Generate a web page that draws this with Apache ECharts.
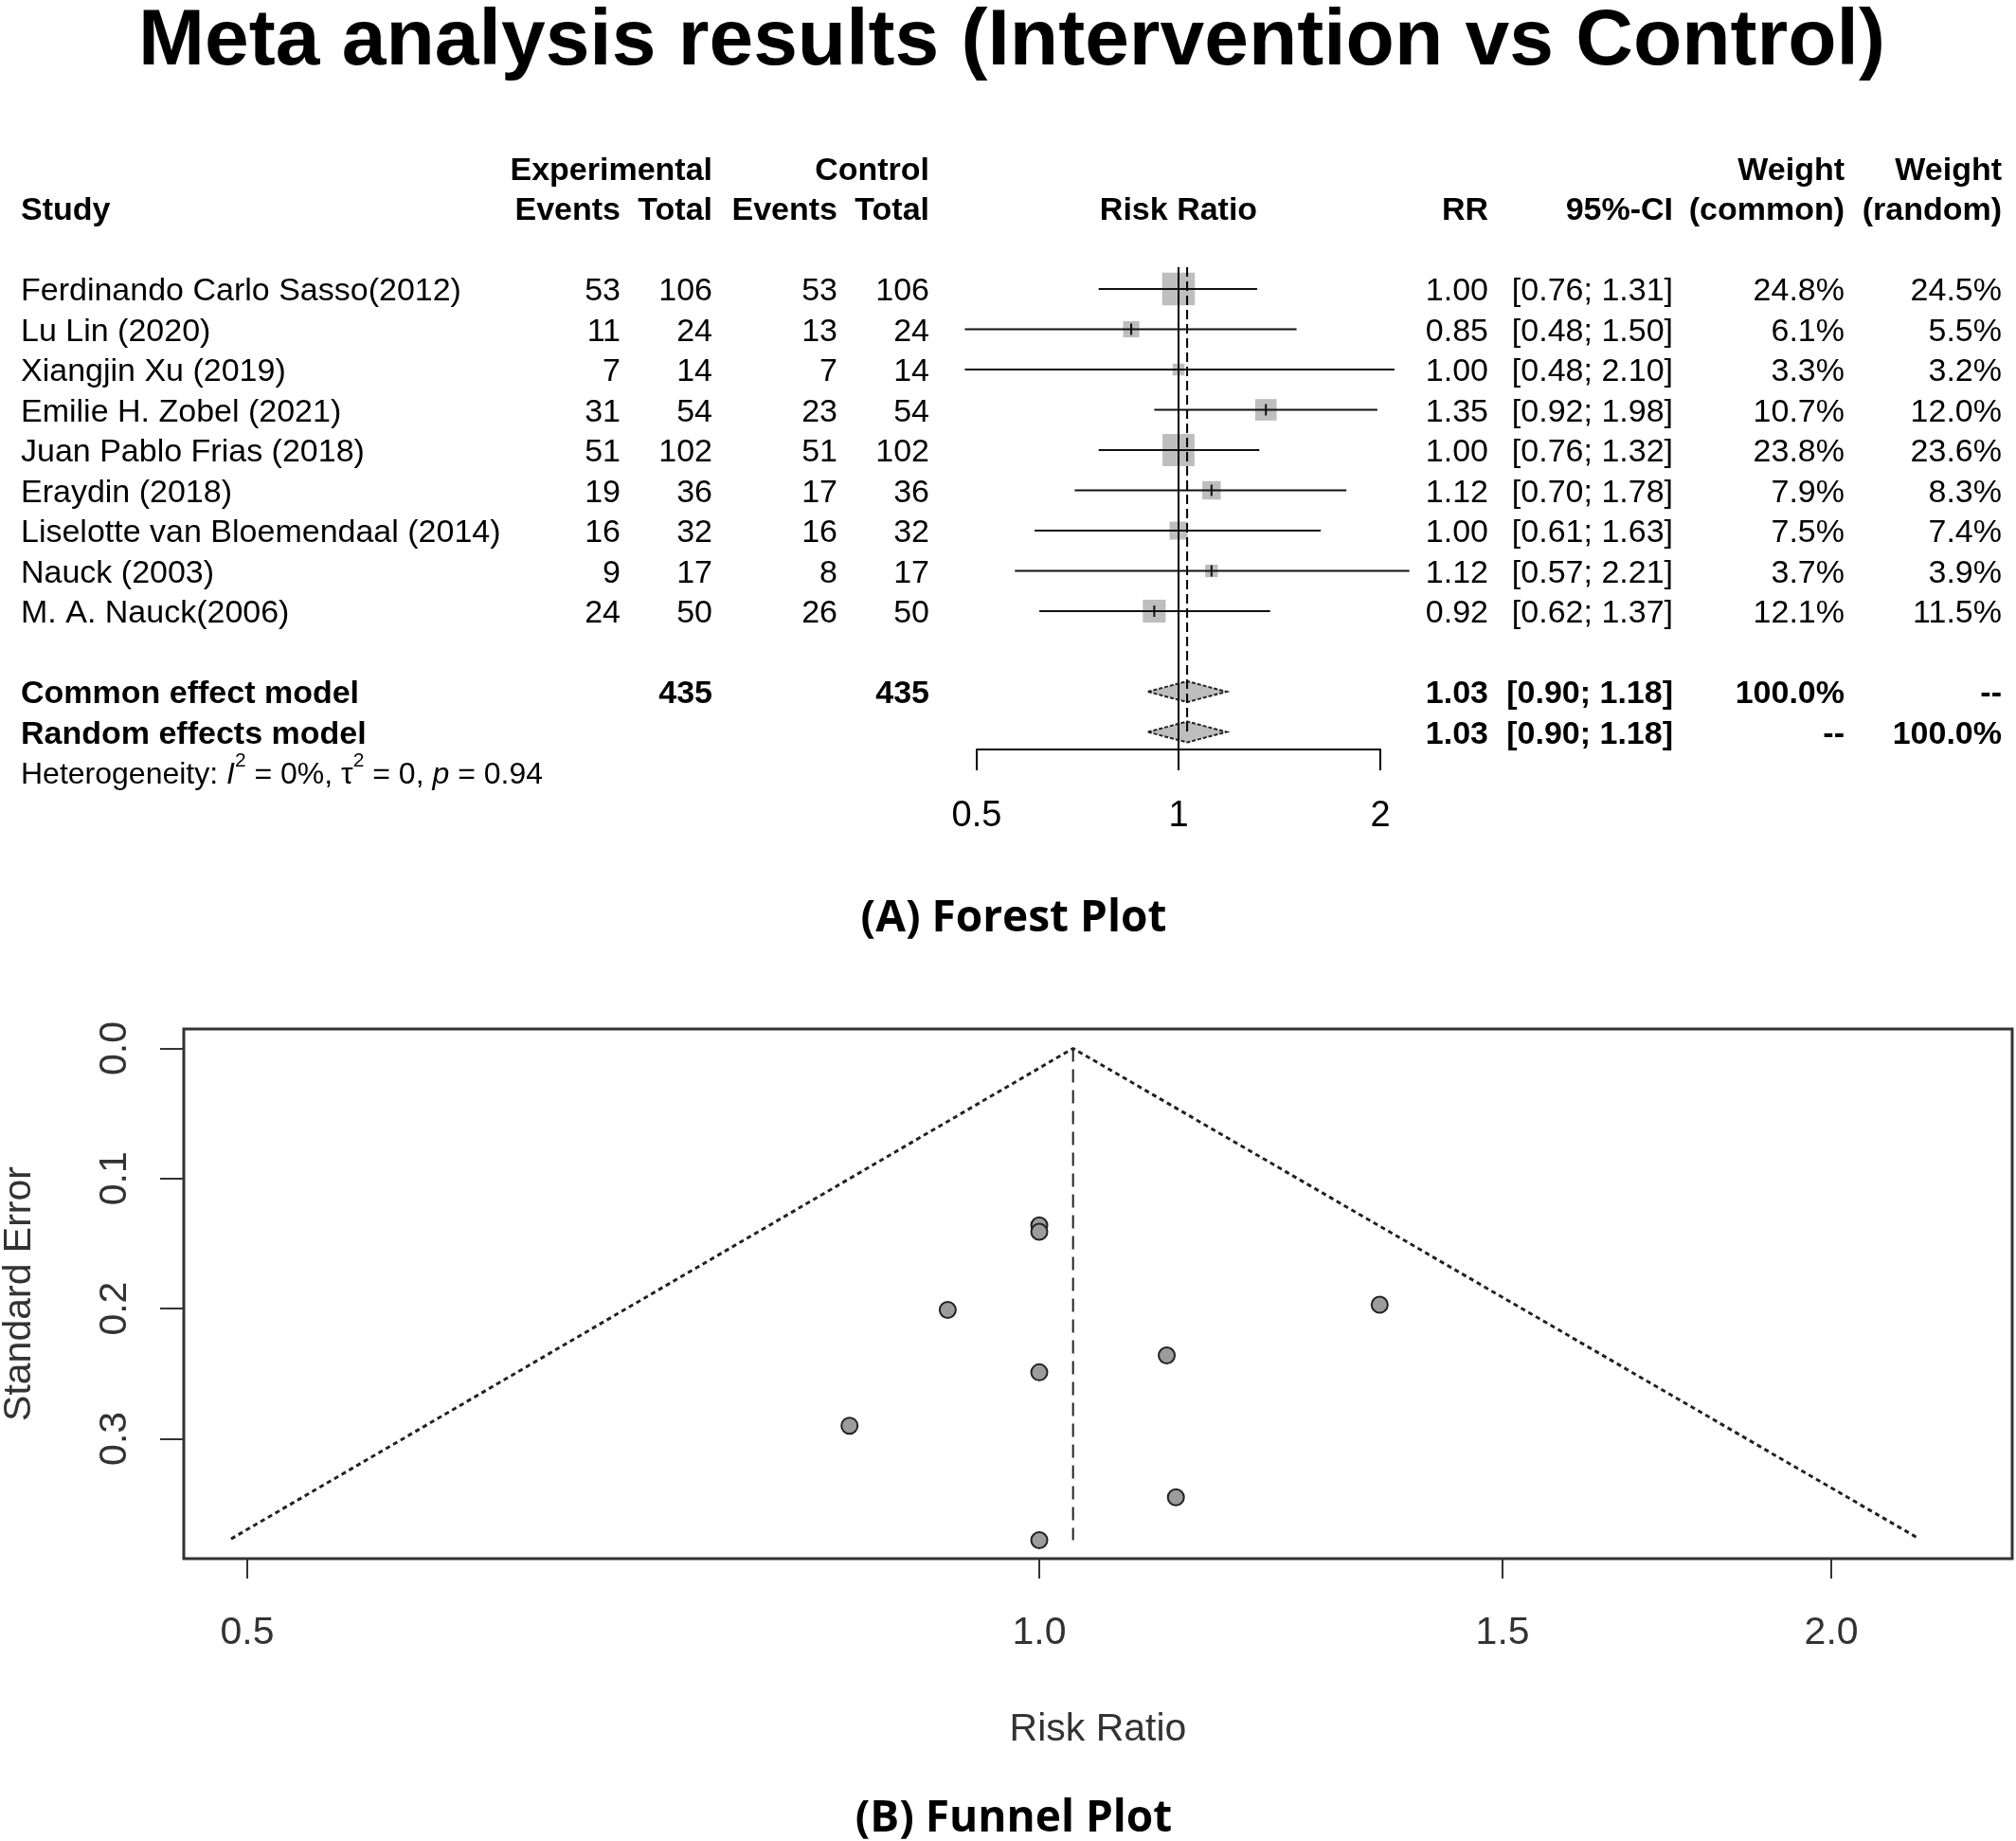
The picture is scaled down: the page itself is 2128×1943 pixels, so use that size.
<!DOCTYPE html>
<html>
<head>
<meta charset="utf-8">
<script src="https://cdn.jsdelivr.net/npm/echarts@6/dist/echarts.min.js"></script>
<style>
html,body{margin:0;padding:0;background:#fff;}
#chart{width:2128px;height:1943px;}
</style>
</head>
<body>
<div id="chart"></div>
<script>
// ---------------- data ----------------
const studies = [
  'Ferdinando Carlo Sasso(2012)', 'Lu Lin (2020)', 'Xiangjin Xu (2019)', 'Emilie H. Zobel (2021)',
  'Juan Pablo Frias (2018)', 'Eraydin (2018)', 'Liselotte van Bloemendaal (2014)', 'Nauck (2003)', 'M. A. Nauck(2006)'
];
const expEvents  = [53, 11, 7, 31, 51, 19, 16, 9, 24];
const expTotal   = [106, 24, 14, 54, 102, 36, 32, 17, 50];
const ctrlEvents = [53, 13, 7, 23, 51, 17, 16, 8, 26];
const ctrlTotal  = [106, 24, 14, 54, 102, 36, 32, 17, 50];
const rr     = [1.00, 0.85, 1.00, 1.35, 1.00, 1.12, 1.00, 1.12, 0.92];
const ciLow  = [0.76, 0.48, 0.48, 0.92, 0.76, 0.70, 0.61, 0.57, 0.62];
const ciHigh = [1.31, 1.50, 2.10, 1.98, 1.32, 1.78, 1.63, 2.21, 1.37];
const weightCommon = [24.8, 6.1, 3.3, 10.7, 23.8, 7.9, 7.5, 3.7, 12.1];
const weightRandom = [24.5, 5.5, 3.2, 12.0, 23.6, 8.3, 7.4, 3.9, 11.5];
const pooledCommon = [0.90, 1.03, 1.18];   // [low, est, high]
const pooledRandom = [0.90, 1.03, 1.18];
const totals = [435, 435];
const forestTicks = [0.5, 1, 2];

// funnel plot values
const funnelRR = [1.00, 0.847, 1.00, 1.347, 1.00, 1.118, 1.00, 1.127, 0.923];
const funnelSE = [0.136, 0.290, 0.378, 0.197, 0.141, 0.236, 0.249, 0.345, 0.201];
const funnelLimitRR = [0.493, 1.03, 2.16];
const funnelLimitSE = [0.377, 0, 0.377];
const funnelPooled = [1.03, 0.378];  // [RR, SE bottom of dashed line]
const funnelXTicks = [0.5, 1.0, 1.5, 2.0];
const funnelYTicks = [0, 0.1, 0.2, 0.3];

// ---------------- layout ----------------
const FONT = '"Liberation Sans", Arial, Helvetica, sans-serif';
const ROW_H1 = -3, ROW_H2 = -2, ROW_COMMON = 10, ROW_RANDOM = 11, ROW_HET = 12;
const COL = { study: 22, expEv: 655, expTot: 752, ctrlEv: 884, ctrlTot: 981, rr: 1571, ci: 1766, wc: 1947, wr: 2113, plot: 1244 };
const TEXT_DY = 3;

const cells = [];
function cell(x, row, text, align, bold, extra) {
  cells.push(Object.assign({ x, row, text: String(text), align, bold: !!bold }, extra || {}));
}
cell(COL.expTot, ROW_H1, 'Experimental', 'right', true);
cell(COL.ctrlTot, ROW_H1, 'Control', 'right', true);
cell(COL.wc, ROW_H1, 'Weight', 'right', true);
cell(COL.wr, ROW_H1, 'Weight', 'right', true);
cell(COL.study, ROW_H2, 'Study', 'left', true);
cell(COL.expEv, ROW_H2, 'Events', 'right', true);
cell(COL.expTot, ROW_H2, 'Total', 'right', true);
cell(COL.ctrlEv, ROW_H2, 'Events', 'right', true);
cell(COL.ctrlTot, ROW_H2, 'Total', 'right', true);
cell(COL.plot, ROW_H2, 'Risk Ratio', 'center', true);
cell(COL.rr, ROW_H2, 'RR', 'right', true);
cell(COL.ci, ROW_H2, '95%-CI', 'right', true);
cell(COL.wc, ROW_H2, '(common)', 'right', true);
cell(COL.wr, ROW_H2, '(random)', 'right', true);
studies.forEach((s, i) => {
  cell(COL.study, i, s, 'left');
  cell(COL.expEv, i, expEvents[i], 'right');
  cell(COL.expTot, i, expTotal[i], 'right');
  cell(COL.ctrlEv, i, ctrlEvents[i], 'right');
  cell(COL.ctrlTot, i, ctrlTotal[i], 'right');
  cell(COL.rr, i, rr[i].toFixed(2), 'right');
  cell(COL.ci, i, '[' + ciLow[i].toFixed(2) + '; ' + ciHigh[i].toFixed(2) + ']', 'right');
  cell(COL.wc, i, weightCommon[i].toFixed(1) + '%', 'right');
  cell(COL.wr, i, weightRandom[i].toFixed(1) + '%', 'right');
});
cell(COL.study, ROW_COMMON, 'Common effect model', 'left', true);
cell(COL.expTot, ROW_COMMON, totals[0], 'right', true);
cell(COL.ctrlTot, ROW_COMMON, totals[1], 'right', true);
cell(COL.rr, ROW_COMMON, pooledCommon[1].toFixed(2), 'right', true);
cell(COL.ci, ROW_COMMON, '[' + pooledCommon[0].toFixed(2) + '; ' + pooledCommon[2].toFixed(2) + ']', 'right', true);
cell(COL.wc, ROW_COMMON, '100.0%', 'right', true);
cell(COL.wr, ROW_COMMON, '--', 'right', true);
cell(COL.study, ROW_RANDOM, 'Random effects model', 'left', true);
cell(COL.rr, ROW_RANDOM, pooledRandom[1].toFixed(2), 'right', true);
cell(COL.ci, ROW_RANDOM, '[' + pooledRandom[0].toFixed(2) + '; ' + pooledRandom[2].toFixed(2) + ']', 'right', true);
cell(COL.wc, ROW_RANDOM, '--', 'right', true);
cell(COL.wr, ROW_RANDOM, '100.0%', 'right', true);
cell(COL.study, ROW_HET, 'Heterogeneity: {i|I}{s|2} = 0%, τ{s|2} = 0, {i|p} = 0.94', 'left', false, {
  fontSize: 32,
  rich: {
    i: { fontStyle: 'italic', fontSize: 32, fontFamily: FONT, fill: '#000' },
    s: { fontSize: 21, fontFamily: FONT, fill: '#000', padding: [0, 0, 30, 0] }
  }
});

// ---------------- chart ----------------
const chart = echarts.init(document.getElementById('chart'), null, { renderer: 'canvas' });

const option = {
  animation: false,
  backgroundColor: '#fff',
  graphic: [
    { type: 'text', x: 1068, y: 45, style: { text: 'Meta analysis results (Intervention vs Control)', fill: '#000', font: 'bold 84px ' + FONT, align: 'center', verticalAlign: 'middle' } },
    { type: 'text', x: 1070, y: 970, style: { text: '(A) Forest Plot', fill: '#000', font: 'bold 46px "Open Sans", "Noto Sans", sans-serif', align: 'center', verticalAlign: 'middle' } },
    { type: 'text', x: 1070, y: 1920, style: { text: '(B) Funnel Plot', fill: '#000', font: 'bold 46px "Open Sans", "Noto Sans", sans-serif', align: 'center', verticalAlign: 'middle' } }
  ],
  grid: [
    { left: 0, right: 0, top: 135, height: 722.5, show: false, outerBoundsMode: 'none', containLabel: false },            // table
    { left: 1031, right: 671, top: 282, height: 509, show: false, outerBoundsMode: 'none', containLabel: false },          // forest plot
    { left: 194, right: 4, top: 1086, height: 559, show: true, borderColor: '#333', borderWidth: 3, backgroundColor: 'transparent', outerBoundsMode: 'none', containLabel: false } // funnel
  ],
  xAxis: [
    { gridIndex: 0, type: 'value', min: 0, max: 2128, show: false },
    {
      gridIndex: 1, type: 'log', logBase: 2, position: 'bottom', min: forestTicks[0], max: forestTicks[forestTicks.length - 1],
      axisLine: { show: true, onZero: false, lineStyle: { color: '#000', width: 2 } },
      axisTick: { show: true, inside: false, length: 22, lineStyle: { color: '#000', width: 2 } },
      axisLabel: { show: true, fontSize: 38, fontFamily: FONT, color: '#000', margin: 52, formatter: v => String(+(+v).toFixed(2)) },
      splitLine: { show: false }
    },
    {
      gridIndex: 2, type: 'value', position: 'bottom', min: Math.log(0.473), max: Math.log(2.343),
      axisLine: { show: false, onZero: false },
      axisTick: { show: true, inside: false, length: 21, customValues: funnelXTicks.map(Math.log), lineStyle: { color: '#333', width: 2 } },
      axisLabel: { show: true, customValues: funnelXTicks.map(Math.log), fontSize: 41, fontFamily: FONT, color: '#333', margin: 58, formatter: v => Math.exp(v).toFixed(1) },
      splitLine: { show: false },
      name: 'Risk Ratio', nameLocation: 'middle', nameGap: 160,
      nameTextStyle: { fontSize: 41, fontFamily: FONT, color: '#333' }
    }
  ],
  yAxis: [
    { gridIndex: 0, type: 'value', inverse: true, min: -4, max: 13, show: false },
    { gridIndex: 1, type: 'value', inverse: true, min: -0.541, max: 11.435, show: false },
    {
      gridIndex: 2, type: 'value', position: 'left', inverse: true, min: -0.0149, max: 0.3922,
      axisLine: { show: false, onZero: false },
      axisTick: { show: true, inside: false, length: 25, customValues: funnelYTicks, lineStyle: { color: '#333', width: 2 } },
      axisLabel: { show: true, customValues: funnelYTicks, rotate: 90, fontSize: 41, fontFamily: FONT, color: '#333', margin: 52, formatter: v => (+v).toFixed(1) },
      splitLine: { show: false },
      name: 'Standard Error', nameLocation: 'middle', nameGap: 153, nameRotate: 90,
      nameTextStyle: { fontSize: 41, fontFamily: FONT, color: '#333' }
    }
  ],
  series: [
    // table text
    {
      type: 'custom', xAxisIndex: 0, yAxisIndex: 0, clip: false, silent: true,
      data: cells.map(c => [c.x, c.row]),
      renderItem: (params, api) => {
        const c = cells[params.dataIndex];
        const p = api.coord([c.x, c.row]);
        const style = { text: c.text, fill: '#000', fontSize: c.fontSize || 34, fontFamily: FONT,
          fontWeight: c.bold ? 'bold' : 'normal', align: c.align, verticalAlign: 'middle' };
        if (c.rich) style.rich = c.rich;
        return { type: 'text', x: p[0], y: p[1] + TEXT_DY, style };
      }
    },
    // study squares
    {
      type: 'custom', xAxisIndex: 1, yAxisIndex: 1, clip: false, silent: true, z: 2,
      data: rr.map((v, i) => [v, i, weightCommon[i]]),
      renderItem: (params, api) => {
        const p = api.coord([api.value(0), api.value(1)]);
        const s = 6.93 * Math.sqrt(api.value(2));
        return { type: 'rect', shape: { x: p[0] - s / 2, y: p[1] - s / 2, width: s, height: s }, style: { fill: '#bebebe' } };
      }
    },
    // diamonds
    {
      type: 'custom', xAxisIndex: 1, yAxisIndex: 1, clip: false, silent: true, z: 2,
      data: [[pooledCommon[0], pooledCommon[1], pooledCommon[2], ROW_COMMON], [pooledRandom[0], pooledRandom[1], pooledRandom[2], ROW_RANDOM]],
      renderItem: (params, api) => {
        const row = api.value(3);
        const l = api.coord([api.value(0), row]);
        const m = api.coord([api.value(1), row]);
        const h = api.coord([api.value(2), row]);
        const hh = 11;
        return { type: 'polygon', shape: { points: [[l[0], l[1]], [m[0], m[1] - hh], [h[0], h[1]], [m[0], m[1] + hh]] },
          style: { fill: '#bebebe', stroke: '#222', lineWidth: 2, lineDash: [4, 2] } };
      }
    },
    // reference lines
    {
      type: 'custom', xAxisIndex: 1, yAxisIndex: 1, clip: false, silent: true, z: 3,
      data: [[1, 0], [pooledCommon[1], 1]],
      renderItem: (params, api) => {
        const cs = params.coordSys;
        const x = api.coord([api.value(0), 0])[0];
        const dashed = api.value(1) === 1;
        const y2 = dashed ? api.coord([1, ROW_RANDOM])[1] + 4 : cs.y + cs.height;
        return { type: 'line', shape: { x1: x, y1: cs.y, x2: x, y2: y2 },
          style: { stroke: '#000', lineWidth: 2, lineDash: dashed ? [10, 5] : null } };
      }
    },
    // CI lines + point ticks
    {
      type: 'custom', xAxisIndex: 1, yAxisIndex: 1, clip: false, silent: true, z: 4,
      data: rr.map((v, i) => [ciLow[i], ciHigh[i], i, v]),
      renderItem: (params, api) => {
        const row = api.value(2);
        const a = api.coord([api.value(0), row]);
        const b = api.coord([api.value(1), row]);
        const c = api.coord([api.value(3), row]);
        return { type: 'group', children: [
          { type: 'line', shape: { x1: a[0], y1: a[1], x2: b[0], y2: b[1] }, style: { stroke: '#111', lineWidth: 2 } },
          { type: 'line', shape: { x1: c[0], y1: c[1] - 6, x2: c[0], y2: c[1] + 6 }, style: { stroke: '#111', lineWidth: 2 } }
        ] };
      }
    },
    // funnel outline
    {
      type: 'line', xAxisIndex: 2, yAxisIndex: 2, symbol: 'none', silent: true, z: 2,
      data: funnelLimitRR.map((r, i) => [Math.log(r), funnelLimitSE[i]]),
      lineStyle: { color: '#222', width: 3, type: [5, 4] }
    },
    {
      type: 'line', xAxisIndex: 2, yAxisIndex: 2, symbol: 'none', silent: true, z: 2,
      data: [[Math.log(funnelPooled[0]), 0], [Math.log(funnelPooled[0]), funnelPooled[1]]],
      lineStyle: { color: '#222', width: 2, type: [14, 8] }
    },
    // funnel points
    {
      type: 'scatter', xAxisIndex: 2, yAxisIndex: 2, silent: true, z: 3,
      symbol: 'circle', symbolSize: 17,
      data: funnelRR.map((r, i) => [Math.log(r), funnelSE[i]]),
      itemStyle: { color: '#9c9c9c', borderColor: '#222', borderWidth: 2, opacity: 1 }
    }
  ]
};
chart.setOption(option);
</script>
</body>
</html>
